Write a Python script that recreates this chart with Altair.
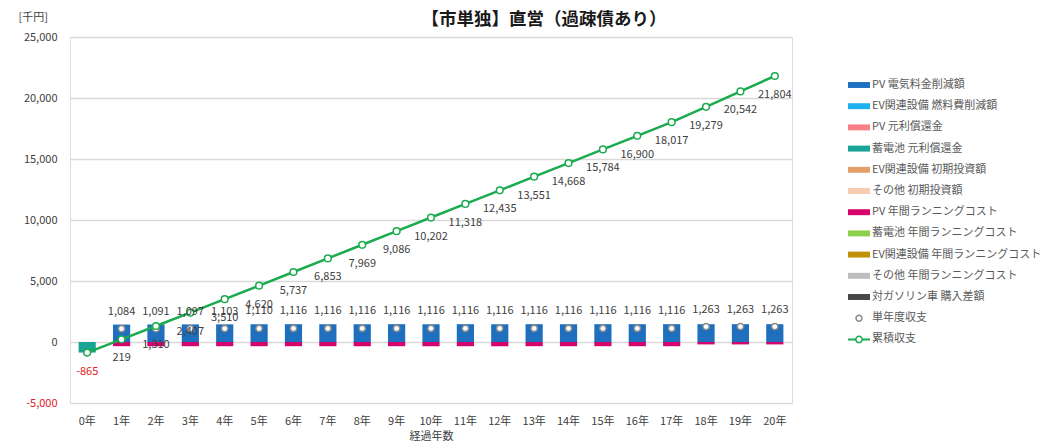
import altair as alt
import pandas as pd

# ---- data ----
YEARS = list(range(21))
YEAR_LABELS = [f"{y}年" for y in YEARS]

# bar components (千円)
PV_SAVING = [0, 1429, 1436, 1442, 1448, 1455] + [1461] * 15
PV_RUNNING = [0] + [-345] * 17 + [-198] * 3
BATTERY_REPAY = [-865] + [0] * 20

# single-year balance and cumulative balance
ANNUAL = [-865, 1084, 1091, 1097, 1103, 1110] + [1116] * 12 + [1263] * 3
CUMULATIVE = [-865, 219, 1310, 2407, 3510, 4620, 5737, 6853, 7969, 9086,
              10202, 11318, 12435, 13551, 14668, 15784, 16900, 18017,
              19279, 20542, 21804]

SERIES = [
    "PV 電気料金削減額",
    "EV関連設備 燃料費削減額",
    "PV 元利償還金",
    "蓄電池 元利償還金",
    "EV関連設備 初期投資額",
    "その他 初期投資額",
    "PV 年間ランニングコスト",
    "蓄電池 年間ランニングコスト",
    "EV関連設備 年間ランニングコスト",
    "その他 年間ランニングコスト",
    "対ガソリン車 購入差額",
    "単年度収支",
    "累積収支",
]
COLORS = [
    "#1f6fbf", "#1cb0ee", "#fb7f86", "#19a596", "#e59f68", "#f7cbb0",
    "#d4046c", "#8fcf4e", "#bf9104", "#bdbdbd", "#474747", "#8c8c8c",
    "#1aab4f",
]

FONT = "Noto Sans CJK JP"
LINE_GREEN = "#1aab4f"
NEG_RED = "#e0201a"

# ---- tables ----
bar_rows = []
for name, vals in [("PV 電気料金削減額", PV_SAVING),
                   ("PV 年間ランニングコスト", PV_RUNNING),
                   ("蓄電池 元利償還金", BATTERY_REPAY)]:
    for lab, v in zip(YEAR_LABELS, vals):
        if v != 0:
            bar_rows.append({"年": lab, "系列": name, "値": v,
                             "順": SERIES.index(name)})
bars_df = pd.DataFrame(bar_rows)

bal_df = pd.DataFrame({"年": YEAR_LABELS, "単年度": ANNUAL, "累積": CUMULATIVE})

# number text with a plain hyphen for negatives
def hyphen_fmt(expr):
    return f"replace(format({expr}, ',.0f'), '\u2212', '-')"


# ---- shared encodings ----
x_enc = alt.X(
    "年:N", sort=YEAR_LABELS,
    scale=alt.Scale(paddingInner=0.5, paddingOuter=0.25),
    axis=alt.Axis(title="経過年数", labelAngle=0, ticks=False, domain=False,
                  labelPadding=12, labelFontSize=11, labelColor="#404040",
                  titleFontSize=11, titleFontWeight="normal",
                  titleColor="#404040", titlePadding=4, labelFont=FONT,
                  titleFont=FONT),
)
y_scale = alt.Scale(domain=[-5000, 25000], nice=False, zero=False)
y_axis = alt.Axis(
    title="[千円]", values=list(range(-5000, 25001, 5000)),
    labelExpr=hyphen_fmt("datum.value"),
    ticks=False, domain=False, labelPadding=13, labelFontSize=11,
    labelFont=FONT,
    labelColor={"condition": {"test": "datum.value < 0", "value": NEG_RED},
                "value": "#404040"},
    gridColor="#d9d9d9", gridWidth=1.5,
    titleAngle=0, titleX=-52, titleY=-20, titleAlign="left",
    titleBaseline="middle", titleFontSize=11, titleFontWeight="normal",
    titleColor="#404040", titleFont=FONT,
)


def y_of(field, **kw):
    # every layer carries the same y scale and axis so they merge cleanly
    return alt.Y(f"{field}:Q", scale=y_scale, axis=y_axis, **kw)


# legend symbol shapes: wide bar, hollow ring, line with hollow marker
BAR_PATH = "M-1,-0.27H1V0.27H-1Z"
RING_PATH = ("M0,-0.34A0.34,0.34 0 1 1 0,0.34A0.34,0.34 0 1 1 0,-0.34Z"
             "M0,-0.2A0.2,0.2 0 1 0 0,0.2A0.2,0.2 0 1 0 0,-0.2Z")
LINE_RING_PATH = ("M-1,-0.09H-0.34V0.09H-1Z"
                  "M0.34,-0.09H1V0.09H0.34Z"
                  "M0,-0.36A0.36,0.36 0 1 1 0,0.36A0.36,0.36 0 1 1 0,-0.36Z"
                  "M0,-0.22A0.22,0.22 0 1 0 0,0.22A0.22,0.22 0 1 0 0,-0.22Z")
symbol_expr = (f"datum.value === '単年度収支' ? '{RING_PATH}' : "
               f"datum.value === '累積収支' ? '{LINE_RING_PATH}' : '{BAR_PATH}'")

legend = alt.Legend(
    title=None, orient="none", legendX=778, legendY=37,
    symbolType=alt.ExprRef(symbol_expr), symbolSize=484,
    symbolStrokeWidth=0, labelFontSize=11, labelColor="#595959",
    labelFont=FONT, labelOffset=2, rowPadding=5.2, labelLimit=300,
)

bars = alt.Chart(bars_df).mark_bar().encode(
    x=x_enc,
    y=y_of("値", stack="zero"),
    color=alt.Color("系列:N", scale=alt.Scale(domain=SERIES, range=COLORS),
                    legend=legend),
    order=alt.Order("順:Q"),
)

annual_pts = alt.Chart(bal_df).mark_point(
    shape="circle", filled=True, fill="white", stroke="#8c8c8c",
    strokeWidth=1.5, size=40, opacity=1,
).encode(x=x_enc, y=y_of("単年度"))

annual_txt = alt.Chart(bal_df).transform_filter("datum['単年度'] > 0").mark_text(
    dy=-17, fontSize=11, font=FONT, color="#404040",
).encode(x=x_enc, y=y_of("単年度"), text=alt.Text("単年度:Q", format=","))

cum_line = alt.Chart(bal_df).mark_line(color=LINE_GREEN, strokeWidth=2.5).encode(
    x=x_enc, y=y_of("累積"))

cum_pts = alt.Chart(bal_df).mark_point(
    shape="circle", filled=True, fill="white", stroke=LINE_GREEN,
    strokeWidth=1.5, size=45, opacity=1,
).encode(x=x_enc, y=y_of("累積"))

cum_txt = alt.Chart(bal_df).transform_calculate(
    ラベル=hyphen_fmt("datum['累積']")
).mark_text(dy=19, fontSize=11, font=FONT).encode(
    x=x_enc, y=y_of("累積"),
    text="ラベル:N",
    color=alt.condition("datum['累積'] < 0", alt.value(NEG_RED),
                        alt.value("#404040")),
)

chart = alt.layer(
    bars, annual_pts, cum_line, cum_pts, annual_txt, cum_txt
).properties(
    width=722, height=366,
    autosize=alt.AutoSizeParams(type="none"),
    padding={"left": 70, "top": 37, "right": 255, "bottom": 43},
    title=alt.TitleParams("【市単独】直営（過疎債あり）", font=FONT, fontSize=17.5,
                          fontWeight="bold", color="#1a1a1a", anchor="middle",
                          dx=113, offset=-17),
).configure_view(stroke="transparent", strokeWidth=0).configure(background="white")

chart.save("out.html", embed_options={"renderer": "svg", "actions": False})
